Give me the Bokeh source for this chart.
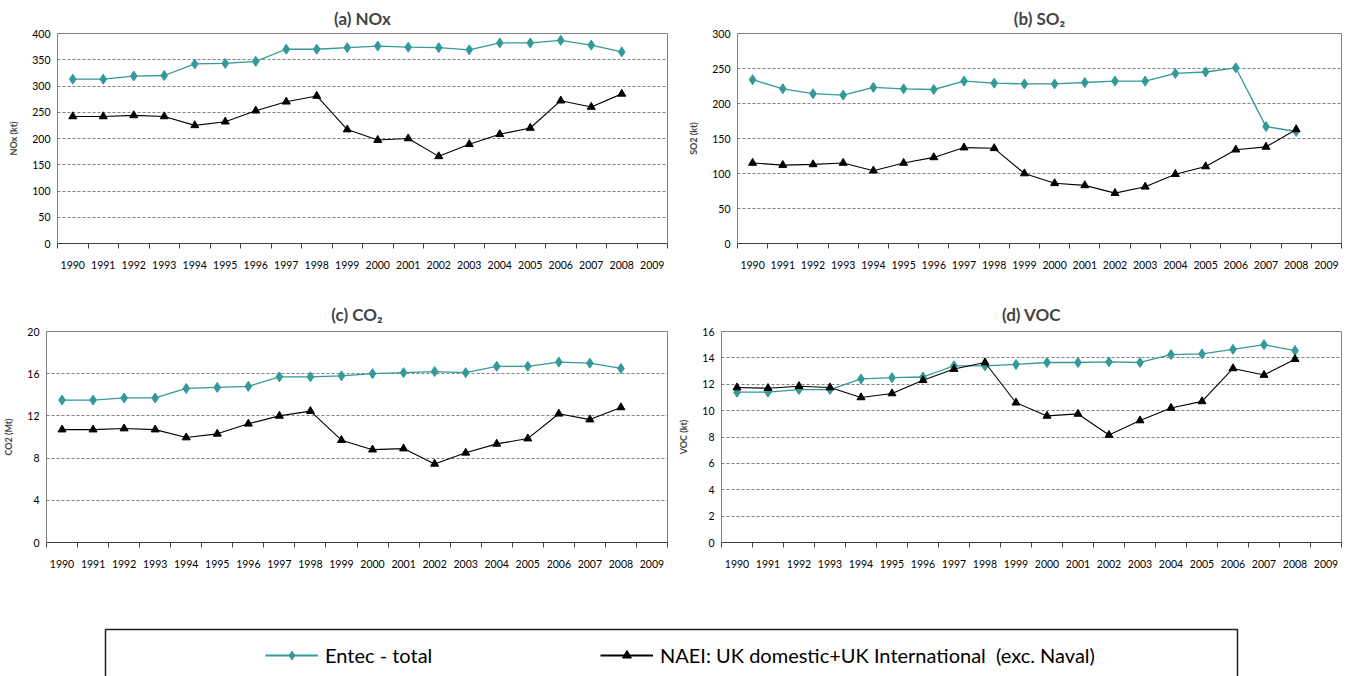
from bokeh.plotting import figure
from bokeh.layouts import column, row
from bokeh.models import Range1d, FixedTicker, Legend, LegendItem, BoxAnnotation
from bokeh.embed import file_html
from bokeh.resources import INLINE

# ---- data ----
axis_years = list(range(1990, 2010))
data_years = list(range(1990, 2009))

nox_entec = [313, 313, 319, 320, 342, 343, 347, 370, 370, 373, 376, 374, 373, 369, 382, 382, 387, 378, 365]
nox_naei = [242, 242, 244, 242, 225, 232, 253, 270, 281, 217, 197, 200, 166, 189, 208, 220, 272, 260, 285]

so2_entec = [234, 221, 214, 212, 223, 221, 220, 232, 229, 228, 228, 230, 232, 232, 243, 245, 251, 167, 160]
so2_naei = [115, 112, 113, 115, 104, 115, 123, 137, 136, 100, 86, 83, 72, 81, 99, 110, 134, 138, 163]

co2_entec = [13.5, 13.5, 13.7, 13.7, 14.6, 14.7, 14.8, 15.7, 15.7, 15.8, 16.0, 16.1, 16.2, 16.1, 16.7, 16.7, 17.1, 17.0, 16.5]
co2_naei = [10.7, 10.7, 10.8, 10.7, 9.95, 10.3, 11.25, 12.0, 12.45, 9.7, 8.8, 8.9, 7.45, 8.5, 9.35, 9.85, 12.2, 11.65, 12.8]

voc_entec = [11.4, 11.4, 11.6, 11.6, 12.4, 12.5, 12.55, 13.4, 13.4, 13.5, 13.65, 13.65, 13.7, 13.65, 14.25, 14.3, 14.65, 15.0, 14.55]
voc_naei = [11.75, 11.7, 11.85, 11.75, 11.0, 11.3, 12.3, 13.15, 13.65, 10.6, 9.6, 9.75, 8.15, 9.25, 10.2, 10.7, 13.2, 12.7, 13.9]

series_labels = ["Entec - total", "NAEI: UK domestic+UK International  (exc. Naval)"]

TEAL = "#339999"
BLACK = "#000000"
FONT = "Lato"


def panel(title, ylabel, ymax, ystep, entec, naei, width, left, height, top, bottom, standoff):
    p = figure(width=width, height=height,
               x_range=Range1d(0, len(axis_years)), y_range=Range1d(0, ymax),
               output_backend="svg", toolbar_location=None,
               min_border_left=left, min_border_right=8,
               min_border_top=top, min_border_bottom=bottom)
    p.title.text = title
    p.title.align = "center"
    p.title.text_font = FONT
    p.title.text_font_size = "17px"
    p.title.text_font_style = "bold"
    p.title.standoff = standoff

    xs = [y - axis_years[0] + 0.5 for y in data_years]
    p.line(xs, entec, color=TEAL, line_width=1.3)
    p.scatter(xs, entec, marker="diamond", size=10, color=TEAL)
    p.line(xs, naei, color=BLACK, line_width=1.1)
    p.scatter(xs, naei, marker="triangle", size=8, color=BLACK)

    centers = [i + 0.5 for i in range(len(axis_years))]
    p.xaxis.ticker = FixedTicker(ticks=centers, minor_ticks=list(range(len(axis_years) + 1)))
    p.xaxis.major_label_overrides = {c: str(y) for c, y in zip(centers, axis_years)}
    p.xaxis.major_tick_out = 0
    p.xaxis.major_tick_in = 0
    p.xaxis.minor_tick_out = 5
    p.xaxis.minor_tick_in = 0
    p.xaxis.minor_tick_line_color = "#404040"
    p.xaxis.axis_line_color = "#404040"
    p.xaxis.major_label_text_font = FONT
    p.xaxis.major_label_text_font_size = "10.5px"
    p.xaxis.major_label_text_color = "#000000"
    p.xaxis.major_label_standoff = 12

    p.yaxis.ticker = FixedTicker(ticks=[ystep * i for i in range(int(round(ymax / ystep)) + 1)])
    p.yaxis.major_tick_out = 0
    p.yaxis.major_tick_in = 0
    p.yaxis.minor_tick_out = 0
    p.yaxis.minor_tick_in = 0
    p.yaxis.axis_line_color = "#808080"
    p.yaxis.axis_label = ylabel
    p.yaxis.axis_label_text_font = FONT
    p.yaxis.axis_label_text_font_size = "9px"
    p.yaxis.axis_label_text_font_style = "bold"
    p.yaxis.axis_label_standoff = 10
    p.yaxis.major_label_text_font = FONT
    p.yaxis.major_label_text_font_size = "10.5px"
    p.yaxis.major_label_text_color = "#000000"
    p.yaxis.major_label_standoff = 7

    p.xgrid.grid_line_color = None
    p.ygrid.ticker = p.yaxis.ticker
    p.ygrid.grid_line_color = "#808080"
    p.ygrid.grid_line_dash = "3 2"
    p.ygrid.grid_line_width = 1
    p.outline_line_color = "#808080"
    p.background_fill_color = "white"
    return p


fa = panel("(a) NOx", "NOx (kt)", 400, 50, nox_entec, nox_naei, 675, 57, 290, 33, 47, 9)
fb = panel("(b) SO\u2082", "SO2 (kt)", 300, 50, so2_entec, so2_naei, 674, 62, 290, 33, 47, 9)
fc = panel("(c) CO\u2082", "CO2 (Mt)", 20, 4, co2_entec, co2_naei, 675, 38, 290, 41, 38, 13)
fd = panel("(d) VOC", "VOC (kt)", 16, 2, voc_entec, voc_naei, 674, 45, 290, 41, 38, 13)

# ---- legend panel ----
lf = figure(width=1349, height=96, x_range=Range1d(0, 1349), y_range=Range1d(0, 96),
            output_backend="svg", toolbar_location=None,
            x_axis_type=None, y_axis_type=None,
            min_border_left=0, min_border_right=0, min_border_top=0, min_border_bottom=0)
lf.outline_line_color = None
lf.add_layout(BoxAnnotation(left=105, right=1237, top=47, bottom=-10,
                            fill_alpha=0, line_color="#202020", line_alpha=1, line_width=1.5))
# off-screen sample renderers used only for the legend glyphs
r1 = lf.line([-100, -90], [-100, -100], color=TEAL, line_width=2)
r1m = lf.scatter([-100], [-100], marker="diamond", size=15, color=TEAL)
r2 = lf.line([-100, -90], [-100, -100], color=BLACK, line_width=2)
r2m = lf.scatter([-100], [-100], marker="triangle", size=12, color=BLACK)
legend = Legend(items=[LegendItem(label=series_labels[0], renderers=[r1, r1m]),
                       LegendItem(label=series_labels[1], renderers=[r2, r2m])],
                location=(265, 9), orientation="horizontal",
                glyph_width=53, glyph_height=22, label_standoff=7,
                label_width=270, spacing=5, padding=0, margin=0,
                border_line_alpha=0, background_fill_alpha=0,
                label_text_font=FONT, label_text_font_size="20px",
                label_text_color="#000000")
lf.add_layout(legend)

layout = column(row(fa, fb), row(fc, fd), lf)

open("out.html", "w").write(file_html(layout, INLINE))
